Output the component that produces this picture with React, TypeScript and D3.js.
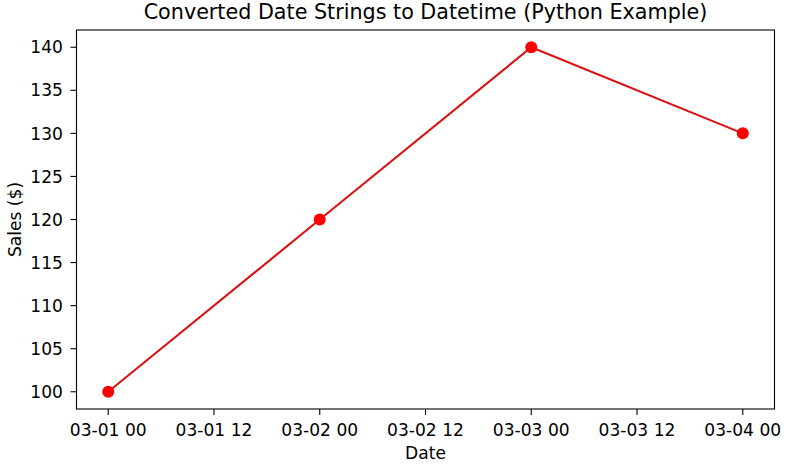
import React, { useRef, useEffect } from 'react';
import * as d3 from 'd3';

const dates = ['2024-03-01', '2024-03-02', '2024-03-03', '2024-03-04'];
const sales = [100, 120, 140, 130];
const yTicks = [100, 105, 110, 115, 120, 125, 130, 135, 140];

const App: React.FC = () => {
  const ref = useRef<SVGSVGElement | null>(null);

  useEffect(() => {
    if (!ref.current) return;
    const svg = d3.select(ref.current);
    svg.selectAll('*').remove();

    const width = 789;
    const height = 466;
    const margin = { top: 30, right: 14.5, bottom: 57, left: 76.5 };
    const font = 'DejaVu Sans, sans-serif';

    const data = dates.map((d, i) => ({ date: new Date(d + 'T00:00:00Z'), value: sales[i] }));

    // matplotlib-style 5% margins
    const [t0, t1] = d3.extent(data, d => d.date) as [Date, Date];
    const pad = (t1.getTime() - t0.getTime()) * 0.05;
    const x = d3.scaleUtc()
      .domain([new Date(t0.getTime() - pad), new Date(t1.getTime() + pad)])
      .range([margin.left, width - margin.right]);

    const [v0, v1] = d3.extent(data, d => d.value) as [number, number];
    const vpad = (v1 - v0) * 0.05;
    const y = d3.scaleLinear()
      .domain([v0 - vpad, v1 + vpad])
      .range([height - margin.bottom, margin.top]);

    const bottom = height - margin.bottom;

    // x axis
    const xTicks = d3.utcHour.every(12)!.range(t0, new Date(t1.getTime() + 1));
    const fmt = d3.utcFormat('%m-%d %H');
    const xg = svg.append('g');
    xTicks.forEach(t => {
      xg.append('line')
        .attr('x1', x(t)).attr('x2', x(t))
        .attr('y1', bottom).attr('y2', bottom + 6)
        .attr('stroke', '#000').attr('stroke-width', 1.1);
      xg.append('text')
        .attr('x', x(t)).attr('y', bottom + 26.7)
        .attr('text-anchor', 'middle')
        .attr('font-family', font).attr('font-size', 17.1)
        .text(fmt(t));
    });

    // y axis
    const yg = svg.append('g');
    yTicks.forEach(v => {
      yg.append('line')
        .attr('x1', margin.left - 6).attr('x2', margin.left)
        .attr('y1', y(v)).attr('y2', y(v))
        .attr('stroke', '#000').attr('stroke-width', 1.1);
      yg.append('text')
        .attr('x', margin.left - 13.5).attr('y', y(v))
        .attr('dy', '0.36em')
        .attr('text-anchor', 'end')
        .attr('font-family', font).attr('font-size', 17.1)
        .text(v);
    });

    // line + markers
    const line = d3.line<{ date: Date, value: number }>()
      .x(d => x(d.date))
      .y(d => y(d.value));

    svg.append('path')
      .datum(data)
      .attr('d', line)
      .attr('fill', 'none')
      .attr('stroke', '#dd1111')
      .attr('stroke-width', 2.1);

    svg.selectAll('.pt')
      .data(data)
      .enter()
      .append('circle')
      .attr('class', 'pt')
      .attr('cx', d => x(d.date))
      .attr('cy', d => y(d.value))
      .attr('r', 6)
      .attr('fill', '#ff0000');

    // frame
    svg.append('rect')
      .attr('x', margin.left).attr('y', margin.top)
      .attr('width', width - margin.left - margin.right)
      .attr('height', height - margin.top - margin.bottom)
      .attr('fill', 'none')
      .attr('stroke', '#000').attr('stroke-width', 1.1);

    // titles
    svg.append('text')
      .attr('x', (margin.left + width - margin.right) / 2)
      .attr('y', 19)
      .attr('text-anchor', 'middle')
      .attr('font-family', font).attr('font-size', 20.7)
      .text('Converted Date Strings to Datetime (Python Example)');

    svg.append('text')
      .attr('x', (margin.left + width - margin.right) / 2)
      .attr('y', 459)
      .attr('text-anchor', 'middle')
      .attr('font-family', font).attr('font-size', 17.1)
      .text('Date');

    svg.append('text')
      .attr('transform', `translate(20.5,${(margin.top + bottom) / 2}) rotate(-90)`)
      .attr('text-anchor', 'middle')
      .attr('font-family', font).attr('font-size', 17.1)
      .text('Sales ($)');
  }, []);

  return (
    <svg ref={ref} width={789} height={466}
      style={{ position: 'absolute', left: 0, top: 0, background: '#fff' }} />
  );
};

export default App;
